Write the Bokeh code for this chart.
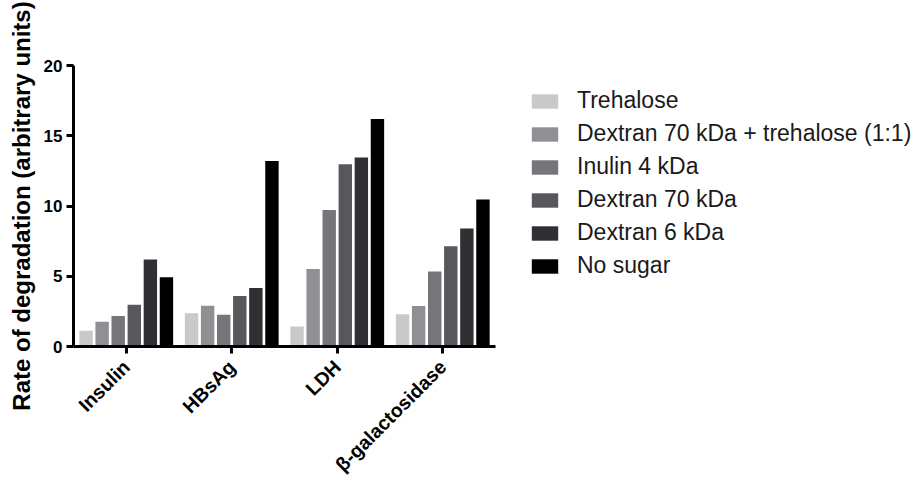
import math
from bokeh.plotting import figure
from bokeh.models import ColumnDataSource, FactorRange, Range1d, FixedTicker, Legend, LegendItem
from bokeh.transform import dodge
from bokeh.embed import file_html
from bokeh.resources import INLINE

categories = ["Insulin", "HBsAg", "LDH", "β-galactosidase"]
series_names = ["Trehalose", "Dextran 70 kDa + trehalose (1:1)", "Inulin 4 kDa",
                "Dextran 70 kDa", "Dextran 6 kDa", "No sugar"]
trehalose = [1.12, 2.36, 1.43, 2.30]
dextran70_trehalose = [1.76, 2.90, 5.52, 2.89]
inulin4 = [2.17, 2.26, 9.71, 5.34]
dextran70 = [2.98, 3.60, 12.98, 7.13]
dextran6 = [6.19, 4.17, 13.45, 8.39]
no_sugar = [4.93, 13.20, 16.20, 10.46]
y_ticks = [0, 5, 10, 15, 20]

colors = ["#c9c9c9", "#8f9093", "#74767a", "#56585b", "#2e3033", "#000000"]

source = ColumnDataSource(data=dict(
    cat=categories,
    s0=trehalose, s1=dextran70_trehalose, s2=inulin4,
    s3=dextran70, s4=dextran6, s5=no_sugar,
))

p = figure(
    x_range=FactorRange(*categories, range_padding=0),
    y_range=Range1d(0, 20),
    frame_width=422, frame_height=281,
    min_border_left=73, min_border_top=65, min_border_right=424, min_border_bottom=138,
    output_backend="svg", toolbar_location=None,
)

step = 0.1524
bar_w = 0.127
offsets = [(i - 2.5) * step for i in range(6)]

renderers = []
for i in range(6):
    r = p.vbar(x=dodge("cat", offsets[i], range=p.x_range), top="s%d" % i, width=bar_w,
               source=source, fill_color=colors[i], line_color=None)
    renderers.append(r)

legend = Legend(items=[LegendItem(label=series_names[i], renderers=[renderers[i]]) for i in range(6)],
                location=(33, 67), orientation="vertical")
legend.glyph_width = 33
legend.glyph_height = 18
legend.label_height = 27
legend.spacing = 6
legend.padding = 0
legend.margin = 0
legend.label_standoff = 16
legend.border_line_color = None
legend.background_fill_alpha = 0
legend.label_text_font = "Liberation Sans"
legend.label_text_font_size = "23px"
legend.label_text_color = "#1a1a1a"
legend.label_text_baseline = "middle"
p.add_layout(legend, "right")

p.outline_line_color = None
p.xgrid.grid_line_color = None
p.ygrid.grid_line_color = None

for ax in (p.xaxis[0], p.yaxis[0]):
    ax.axis_line_width = 3
    ax.axis_line_color = "black"
    ax.major_tick_line_width = 3
    ax.major_tick_line_color = "black"
    ax.major_tick_out = 7
    ax.major_tick_in = 0
    ax.minor_tick_line_color = None
    ax.major_label_text_font = "Liberation Sans"
    ax.major_label_text_font_style = "bold"
    ax.major_label_text_color = "black"

p.yaxis.ticker = FixedTicker(ticks=y_ticks)
p.yaxis.major_label_text_font_size = "17px"
p.yaxis.major_label_standoff = 4
p.yaxis.axis_label = "Rate of degradation (arbitrary units)"
p.yaxis.axis_label_text_font = "Liberation Sans"
p.yaxis.axis_label_text_font_style = "bold"
p.yaxis.axis_label_text_font_size = "24px"
p.yaxis.axis_label_text_color = "black"
p.yaxis.axis_label_standoff = 6

p.xaxis.major_label_orientation = math.pi / 4
p.xaxis.major_label_text_font_size = "19.5px"
p.xaxis.major_label_standoff = 10

open("out.html", "w").write(file_html(p, INLINE))
